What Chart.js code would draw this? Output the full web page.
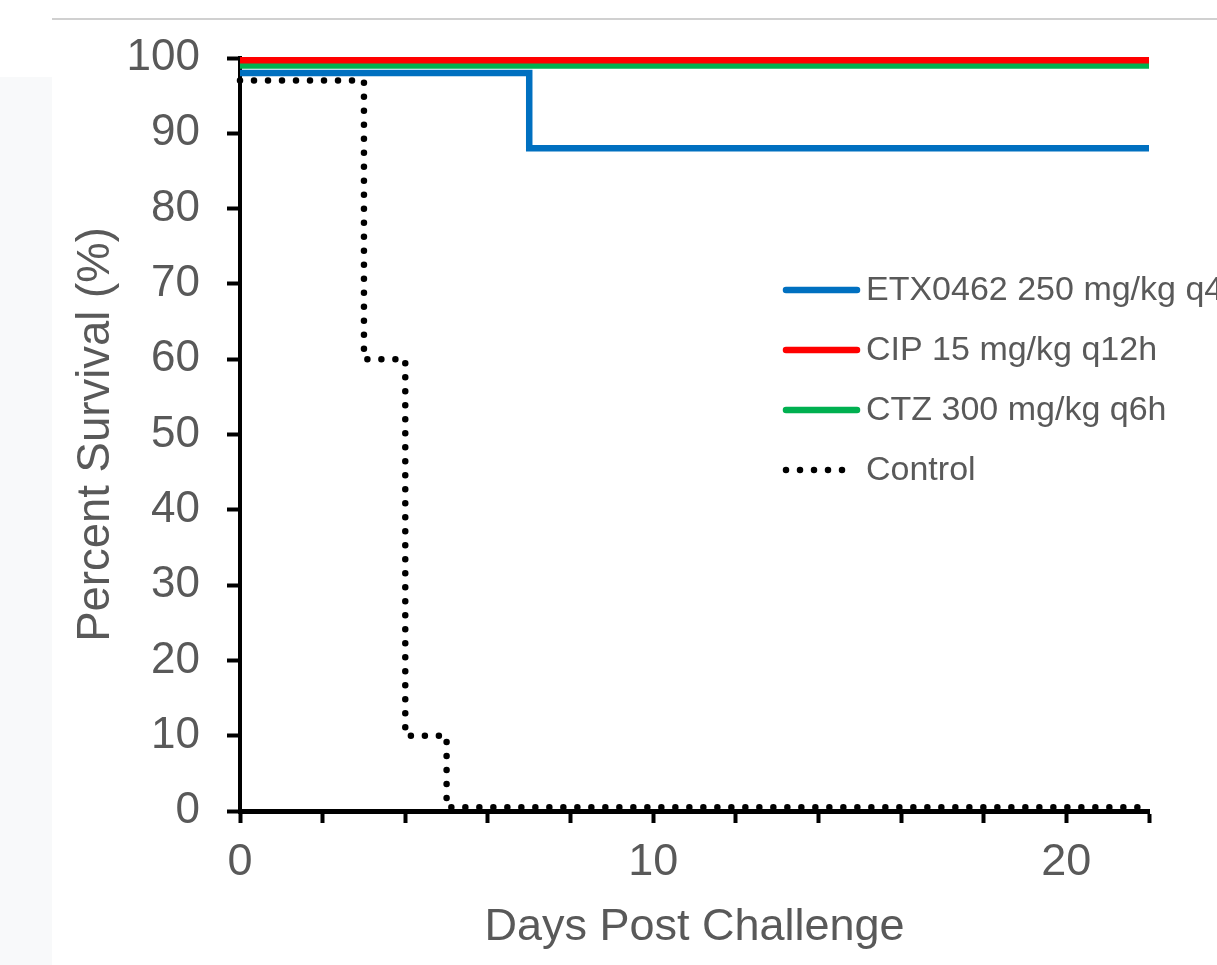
<!DOCTYPE html>
<html>
<head>
<meta charset="utf-8">
<title>Percent Survival</title>
<script src="https://cdn.jsdelivr.net/npm/chart.js@4.4.1/dist/chart.umd.min.js"></script>
<style>
  html, body { margin: 0; padding: 0; background: #fff; overflow: hidden; }
  #page { position: relative; width: 1217px; height: 965px; }
  #topRule { position: absolute; left: 52px; top: 18px; width: 1165px; height: 2px; background: #d0d0d0; }
  #sideStrip { position: absolute; left: 0; top: 77px; width: 52px; height: 888px; background: #f8f9fa; }
  #chart { position: absolute; left: 0; top: 0; }
</style>
</head>
<body>
<div id="page">
  <div id="topRule"></div>
  <div id="sideStrip"></div>
  <canvas id="chart" width="1217" height="965"></canvas>
</div>
<script>
/* ---- données ---- */
const seriesNames = ["ETX0462 250 mg/kg q4h", "CIP 15 mg/kg q12h", "CTZ 300 mg/kg q6h", "Control"];

const etxDays  = [0, 7, 22];
const etxSurv  = [98, 88, 88];

const cipDays  = [0, 22];
const cipSurv  = [99.7, 99.7];

const ctzDays  = [0, 22];
const ctzSurv  = [99, 99];

const ctrlDays = [0, 3, 4, 5, 22];
const ctrlSurv = [97, 60, 10, 0.5, 0.5];

const xLabelTicks = [0, 10, 20];

const FONT = "'Liberation Sans', Arial, sans-serif";
const GREY = "#595959";

function toPoints(xs, ys) {
  return xs.map((x, i) => ({ x, y: ys[i] }));
}

function stepDataset(label, xs, ys, color, dotted) {
  return {
    label,
    data: toPoints(xs, ys),
    stepped: "before",
    borderColor: color,
    backgroundColor: color,
    borderWidth: 6.5,
    borderCapStyle: dotted ? "round" : "butt",
    borderJoinStyle: "miter",
    borderDash: dotted ? [0, 14] : [],
    pointRadius: 0,
    fill: false,
    clip: 10
  };
}

/* légende dessinée dans la zone du graphique */
const insideLegend = {
  id: "insideLegend",
  afterDatasetsDraw(chart) {
    const ctx = chart.ctx;
    const rows = [290, 350, 410, 470];
    ctx.save();
    chart.data.datasets.forEach((ds, i) => {
      const y = rows[i];
      ctx.beginPath();
      ctx.strokeStyle = ds.borderColor;
      ctx.lineWidth = ds.borderWidth;
      ctx.lineCap = "round";
      ctx.setLineDash(ds.borderDash);
      ctx.moveTo(786, y);
      ctx.lineTo(ds.borderDash.length ? 848 : 857, y);
      ctx.stroke();
      ctx.setLineDash([]);
      ctx.fillStyle = GREY;
      ctx.font = "34px " + FONT;
      ctx.textAlign = "left";
      ctx.textBaseline = "middle";
      ctx.fillText(ds.label, 866, y + 1);
    });
    ctx.restore();
  }
};

new Chart(document.getElementById("chart"), {
  type: "line",
  data: {
    datasets: [
      stepDataset(seriesNames[0], etxDays,  etxSurv,  "#0070C0", false),
      stepDataset(seriesNames[1], cipDays,  cipSurv,  "#FF0000", false),
      stepDataset(seriesNames[2], ctzDays,  ctzSurv,  "#00B050", false),
      stepDataset(seriesNames[3], ctrlDays, ctrlSurv, "#000000", true)
    ]
  },
  options: {
    responsive: false,
    animation: false,
    devicePixelRatio: 1,
    layout: { padding: { top: 58, right: 68, left: 0, bottom: 0 } },
    plugins: {
      legend: { display: false },
      tooltip: { enabled: false }
    },
    scales: {
      x: {
        type: "linear",
        min: 0,
        max: 22,
        afterFit: s => { s.height = 154; },
        border: { display: true, color: "#000", width: 5 },
        grid: { drawOnChartArea: false, color: "#000", tickColor: "#000", tickLength: 12, tickWidth: 4 },
        ticks: {
          stepSize: 2,
          color: GREY,
          padding: 13,
          maxRotation: 0,
          autoSkip: false,
          font: { family: FONT, size: 45 },
          callback: v => (xLabelTicks.includes(v) ? String(v) : "")
        },
        title: {
          display: true,
          text: "Days Post Challenge",
          color: GREY,
          font: { family: FONT, size: 45 },
          padding: { top: 0, bottom: 10 }
        }
      },
      y: {
        min: 0,
        max: 100,
        afterFit: s => { s.width = 240; },
        border: { display: true, color: "#000", width: 4 },
        grid: { drawOnChartArea: false, color: "#000", tickColor: "#000", tickLength: 13, tickWidth: 4 },
        ticks: {
          stepSize: 10,
          color: GREY,
          padding: 27,
          font: { family: FONT, size: 44 }
        },
        title: {
          display: true,
          text: "Percent Survival (%)",
          color: GREY,
          font: { family: FONT, size: 45.5 },
          padding: { top: 69, bottom: 0 }
        }
      }
    }
  },
  plugins: [insideLegend]
});
</script>
</body>
</html>
